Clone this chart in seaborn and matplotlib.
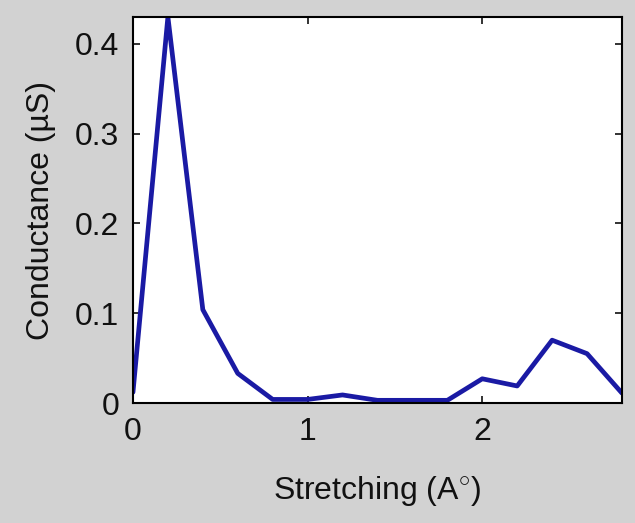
import numpy as np
import pandas as pd
import matplotlib
matplotlib.use("Agg")
import matplotlib.pyplot as plt
import seaborn as sns

# stretching (Angstrom) vs conductance (uS)
stretch = [0.0, 0.2, 0.4, 0.6, 0.8, 1.0, 1.2, 1.4, 1.6, 1.8, 2.0, 2.2, 2.4, 2.6, 2.8]
conductance = [0.012, 0.430, 0.104, 0.033, 0.004, 0.004, 0.009, 0.003, 0.003, 0.003,
               0.027, 0.019, 0.070, 0.055, 0.011]

xticks = [0, 1, 2]
yticks = [0, 0.1, 0.2, 0.3, 0.4]
ytick_labels = ["0", "0.1", "0.2", "0.3", "0.4"]

df = pd.DataFrame({"stretch": stretch, "conductance": conductance})

sns.set_style("ticks")
plt.rcParams["font.family"] = ["Liberation Sans", "DejaVu Sans"]
plt.rcParams["mathtext.fontset"] = "custom"
plt.rcParams["mathtext.rm"] = "Liberation Sans"
plt.rcParams["text.color"] = "#111111"
plt.rcParams["axes.labelcolor"] = "#111111"
plt.rcParams["xtick.color"] = "#111111"
plt.rcParams["ytick.color"] = "#111111"

bg = "#d2d2d2"
fig = plt.figure(figsize=(6.35, 5.23), dpi=100, facecolor=bg)
ax = fig.add_axes([0.2094, 0.2294, 0.7701, 0.7381])
ax.set_facecolor("white")

sns.lineplot(data=df, x="stretch", y="conductance", ax=ax,
             color="#1a1aa4", linewidth=3.4)

ax.set_xlim(0, 2.8)
ax.set_ylim(0, 0.43)
ax.set_xticks(xticks)
ax.set_yticks(yticks)
ax.set_yticklabels(ytick_labels)

for s in ax.spines.values():
    s.set_linewidth(1.5)
    s.set_color("black")
ax.tick_params(direction="in", length=5, width=1.2, top=True, right=True,
               labelsize=23, pad=10)

ax.set_xlabel("Stretching (A$^{\\circ}$)", fontsize=23)
ax.set_ylabel("Conductance (\u00b5S)", fontsize=23)
ax.xaxis.set_label_coords(0.5, -0.185)
ax.yaxis.set_label_coords(-0.157, 0.5)
ax.yaxis.label.set_va("bottom")

fig.savefig("out.png", dpi=100, facecolor=bg)
